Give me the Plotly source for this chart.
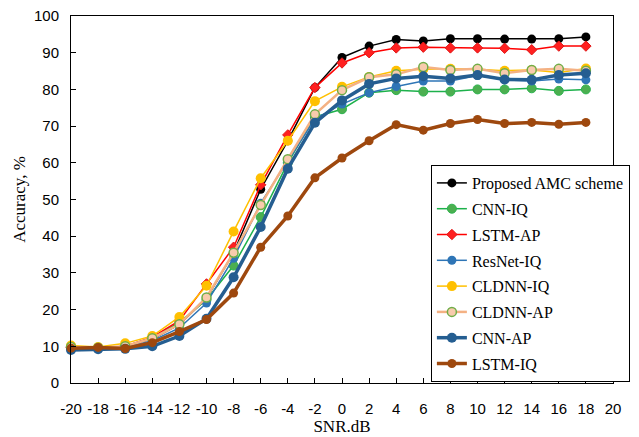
import plotly.graph_objects as go

snr = list(range(-20, 20, 2))

proposed = [9.8, 9.5, 10.0, 12.0, 16.0, 23.0, 35.5, 52.8, 66.0, 80.5, 88.7, 91.8, 93.6, 93.2, 93.8, 93.8, 93.7, 93.7, 93.8, 94.3]
cnn_iq = [9.6, 9.5, 10.0, 12.3, 16.5, 22.7, 32.0, 45.2, 60.0, 72.5, 74.6, 79.1, 79.8, 79.4, 79.4, 80.0, 80.0, 80.3, 79.6, 80.0]
lstm_ap = [9.8, 9.5, 10.0, 12.5, 17.0, 27.0, 37.0, 54.0, 67.6, 80.5, 87.2, 90.0, 91.3, 91.5, 91.3, 91.3, 91.2, 90.8, 91.8, 91.8]
resnet_iq = [9.3, 9.4, 9.8, 11.5, 15.0, 21.8, 34.0, 49.0, 60.5, 72.0, 76.0, 79.1, 80.8, 82.3, 82.3, 83.8, 82.6, 82.3, 82.8, 82.6]
cldnn_iq = [10.2, 9.8, 10.8, 12.8, 18.0, 26.5, 41.3, 55.8, 66.0, 76.8, 80.7, 83.4, 85.1, 85.5, 85.6, 85.5, 85.1, 85.3, 84.6, 85.7]
cldnn_ap = [9.8, 9.6, 10.0, 12.2, 16.0, 23.3, 35.5, 48.5, 61.0, 73.2, 79.8, 83.3, 84.1, 86.1, 85.3, 85.6, 84.4, 85.3, 85.6, 85.1]
cnn_ap = [9.0, 9.2, 9.3, 10.0, 12.8, 17.5, 28.8, 42.5, 58.4, 70.9, 77.0, 81.5, 83.0, 83.6, 83.0, 83.9, 82.7, 82.6, 83.9, 84.4]
lstm_iq = [9.5, 9.7, 9.4, 11.0, 14.0, 17.3, 24.5, 37.0, 45.5, 55.9, 61.3, 66.0, 70.4, 68.9, 70.7, 71.8, 70.7, 71.0, 70.5, 71.0]

x_ticks = list(range(-20, 21, 2))
y_ticks = list(range(0, 101, 10))

series = [
    ("Proposed AMC scheme", proposed, dict(color="#000000", width=1.5), dict(color="#000000", size=9, symbol="circle")),
    ("CNN-IQ", cnn_iq, dict(color="#1DB14B", width=1.5), dict(color="#4CAF50", size=9, symbol="circle", line=dict(color="#2DB34F", width=1))),
    ("LSTM-AP", lstm_ap, dict(color="#FF0000", width=1.5), dict(color="#FF2020", size=8, symbol="diamond", line=dict(color="#E01818", width=1))),
    ("ResNet-IQ", resnet_iq, dict(color="#2E75B6", width=1.5), dict(color="#2E75B6", size=9, symbol="circle")),
    ("CLDNN-IQ", cldnn_iq, dict(color="#FFC000", width=1.5), dict(color="#FFC000", size=10, symbol="circle")),
    ("CLDNN-AP", cldnn_ap, dict(color="#F4B183", width=2.5), dict(color="#F8CBAD", size=9, symbol="circle", line=dict(color="#70AD47", width=1.5))),
    ("CNN-AP", cnn_ap, dict(color="#255E91", width=3.5), dict(color="#255E91", size=10, symbol="circle")),
    ("LSTM-IQ", lstm_iq, dict(color="#9E480E", width=3.5), dict(color="#9E480E", size=9, symbol="circle")),
]

fig = go.Figure()
for i, (name, vals, line, marker) in enumerate(series):
    fig.add_trace(go.Scatter(x=snr, y=vals, name=name, mode="lines+markers",
                             line=line, marker=marker, cliponaxis=False,
                             legendgroup=f"g{i}"))

fig.update_layout(
    width=639, height=437,
    margin=dict(l=71, r=9, t=16, b=54),
    plot_bgcolor="white", paper_bgcolor="white",
    showlegend=True,
    legend=dict(x=0.664, y=0.594, xanchor="left", yanchor="top",
                bordercolor="#000000", borderwidth=1, bgcolor="white",
                font=dict(family="Liberation Serif", size=16, color="#000000"),
                itemwidth=30, tracegroupgap=2),
    font=dict(family="Liberation Sans", size=15, color="#000000"),
)
fig.update_xaxes(range=[-20, 20], tickvals=x_ticks, ticktext=[str(v) for v in x_ticks],
                 ticks="inside", ticklen=5, tickcolor="#000000", showline=True,
                 linecolor="#000000", linewidth=1, mirror=True, showgrid=False, zeroline=False,
                 ticklabelstandoff=12, automargin=False,
                 title=dict(text="SNR.dB", font=dict(family="Liberation Serif", size=17), standoff=4),
                 tickfont=dict(family="Liberation Sans", size=15))
fig.update_yaxes(range=[0, 100], tickvals=y_ticks, ticks="inside", ticklen=5, tickcolor="#000000",
                 showline=True, linecolor="#000000", linewidth=1, mirror=True, showgrid=False,
                 zeroline=False, ticklabelstandoff=8, automargin=False,
                 title=dict(text="Accuracy, %", font=dict(family="Liberation Serif", size=17), standoff=4),
                 tickfont=dict(family="Liberation Sans", size=15))

fig.write_html("out.html")
